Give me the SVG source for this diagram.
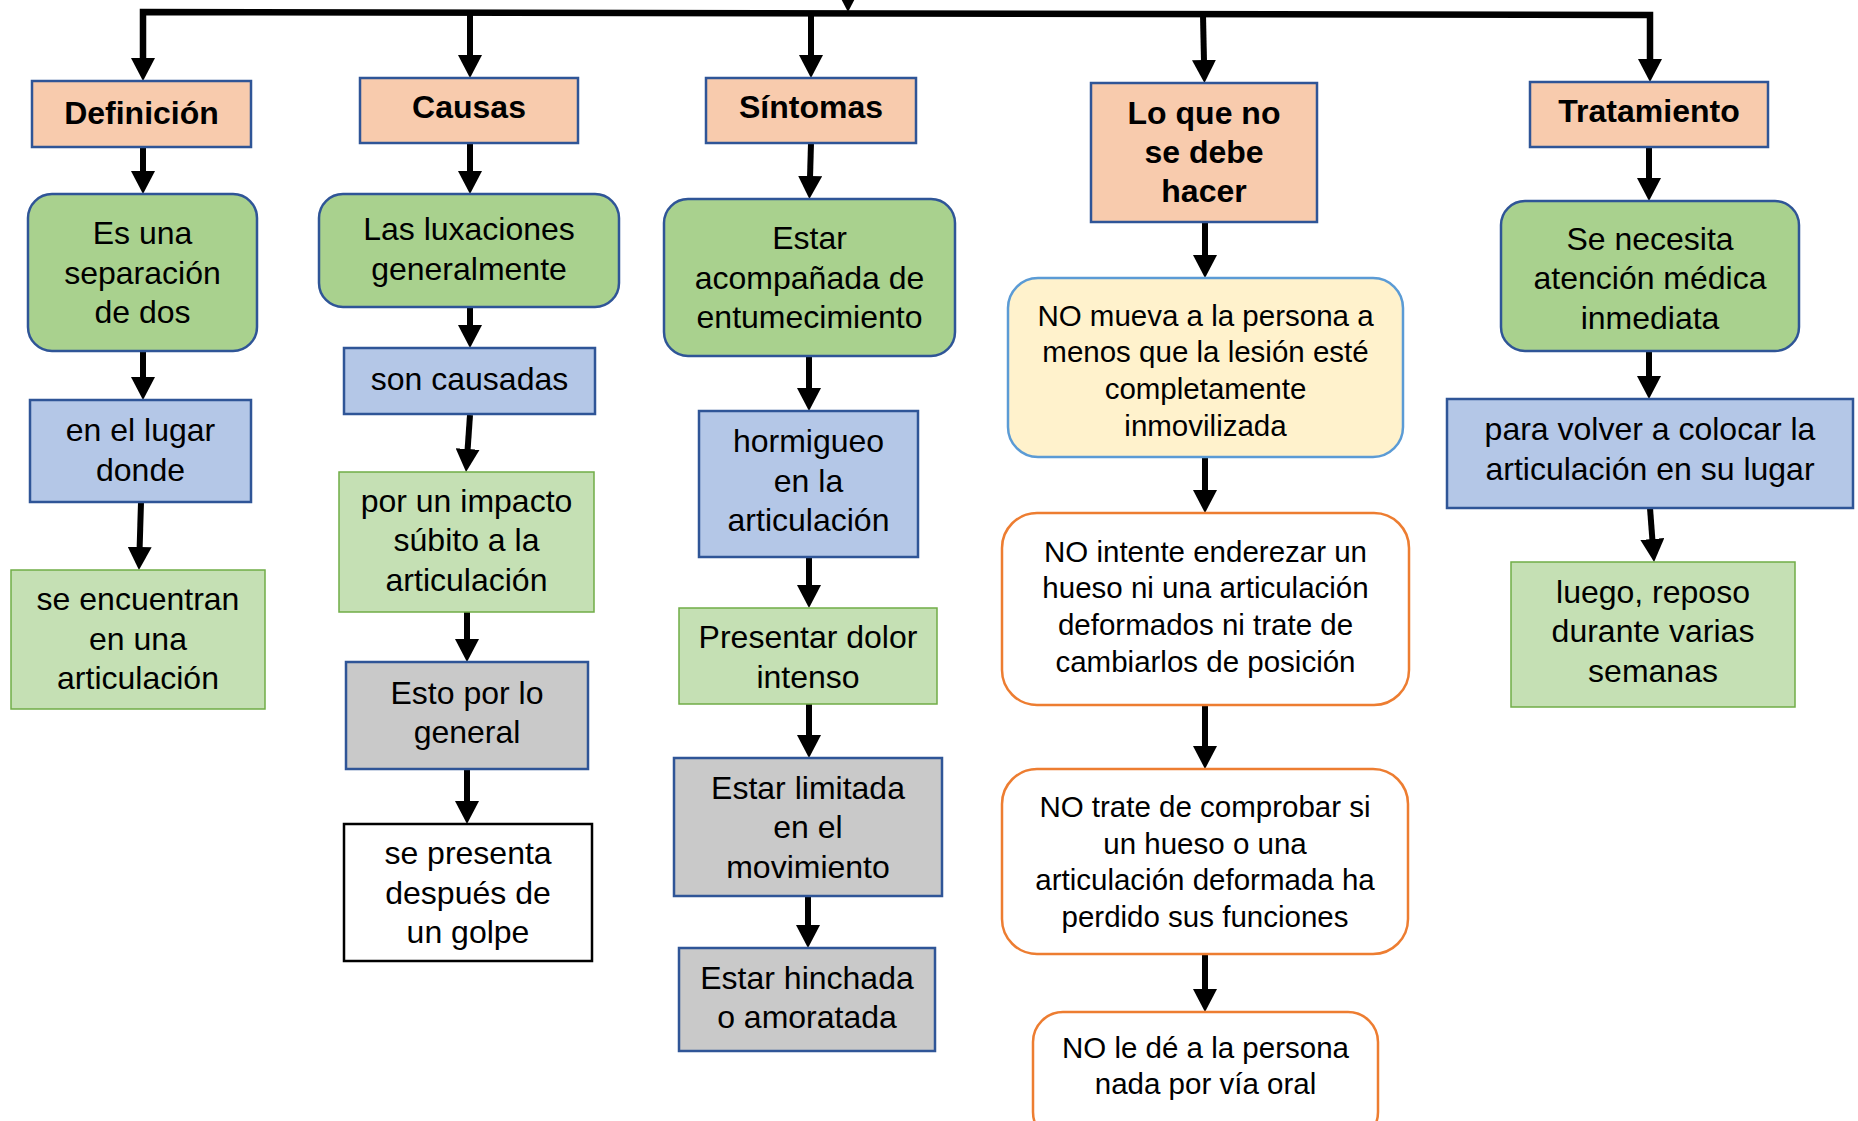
<svg xmlns="http://www.w3.org/2000/svg" width="1858" height="1121" viewBox="0 0 1858 1121">
<style>
text{font-family:"Liberation Sans",Arial,sans-serif;font-size:32px;fill:#000;text-anchor:middle}
.h text{font-weight:bold}
.no text{font-size:29.5px}
.hd{fill:#F8CBAD;stroke:#2F5597;stroke-width:2.5}
.gr{fill:#A9D18E;stroke:#2F5597;stroke-width:2.5}
.bl{fill:#B4C7E7;stroke:#2F5597;stroke-width:2.5}
.lg{fill:#C5E0B4;stroke:#70AD47;stroke-width:1.5}
.gy{fill:#C9C9C9;stroke:#2F5597;stroke-width:2.5}
.wh{fill:#FFFFFF;stroke:#000;stroke-width:2.5}
.ye{fill:#FFF2CC;stroke:#5B9BD5;stroke-width:2.5}
.or{fill:#FFFFFF;stroke:#ED7D31;stroke-width:2.5}
.c path{fill:none;stroke:#000;stroke-width:6;marker-end:url(#ah)}
</style>
<defs>
<marker id="ah" markerUnits="userSpaceOnUse" markerWidth="24" markerHeight="24" refX="2" refY="12" orient="auto-start-reverse"><path d="M0,0 L23,12 L0,24 z" fill="#000"/></marker>
</defs>
<g class="c" id="connectors">
<path d="M143,60 L143,12 L1650,15 L1650,61" style="marker-start:url(#ah);stroke-width:6.5" stroke-linejoin="miter"/>
<path d="M848,-30 L848,-9"/>
<path d="M470,13 L470,57"/>
<path d="M811,14 L811,57"/>
<path d="M1203,15 L1204,62"/>
<path d="M143,147 L143,173"/>
<path d="M143,351 L143,379"/>
<path d="M141,502 L139.6,549"/>
<path d="M470,143 L470,173"/>
<path d="M470,307 L470,327"/>
<path d="M470,415 L467.5,451"/>
<path d="M467,612 L467,641"/>
<path d="M467,769 L467,803"/>
<path d="M811,143 L810,178"/>
<path d="M809,356 L809,390"/>
<path d="M809,557 L809,587"/>
<path d="M809,704 L809,737"/>
<path d="M808,896 L808,927"/>
<path d="M1205,222 L1205,257"/>
<path d="M1205,457 L1205,492"/>
<path d="M1205,705 L1205,748"/>
<path d="M1205,954 L1205,991"/>
<path d="M1649,147 L1649,180"/>
<path d="M1649,351 L1649,378"/>
<path d="M1650,508 L1652.5,541"/>
</g>
<g class="h">
<g id="definicion"><rect class="hd" x="32" y="81" width="219" height="66"/><text x="141.5" y="124">Definición</text></g>
<g id="causas"><rect class="hd" x="360" y="78" width="218" height="65"/><text x="469" y="118">Causas</text></g>
<g id="sintomas"><rect class="hd" x="706" y="78" width="210" height="65"/><text x="811" y="118">Síntomas</text></g>
<g id="loqueno"><rect class="hd" x="1091" y="83" width="226" height="139"/><text x="1204" y="123.5">Lo que no</text><text x="1204" y="162.5">se debe</text><text x="1204" y="201.5">hacer</text></g>
<g id="tratamiento"><rect class="hd" x="1530" y="82" width="238" height="65"/><text x="1649" y="122">Tratamiento</text></g>
</g>
<g id="esuna"><rect class="gr" x="28" y="194" width="229" height="157" rx="24"/><text x="142.5" y="244">Es una</text><text x="142.5" y="283.5">separación</text><text x="142.5" y="323">de dos</text></g>
<g id="enellugar"><rect class="bl" x="30" y="400" width="221" height="102"/><text x="140.5" y="441">en el lugar</text><text x="140.5" y="481">donde</text></g>
<g id="seencuentran"><rect class="lg" x="11" y="570" width="254" height="139"/><text x="138" y="610">se encuentran</text><text x="138" y="649.5">en una</text><text x="138" y="689">articulación</text></g>
<g id="lasluxaciones"><rect class="gr" x="319" y="194" width="300" height="113" rx="24"/><text x="469" y="240">Las luxaciones</text><text x="469" y="279.5">generalmente</text></g>
<g id="soncausadas"><rect class="bl" x="344" y="348" width="251" height="66"/><text x="469.5" y="389.5">son causadas</text></g>
<g id="porunimpacto"><rect class="lg" x="339" y="472" width="255" height="140"/><text x="466.5" y="511.5">por un impacto</text><text x="466.5" y="551">súbito a la</text><text x="466.5" y="590.5">articulación</text></g>
<g id="estoporlo"><rect class="gy" x="346" y="662" width="242" height="107"/><text x="467" y="703.5">Esto por lo</text><text x="467" y="743">general</text></g>
<g id="sepresenta"><rect class="wh" x="344" y="824" width="248" height="137"/><text x="468" y="864">se presenta</text><text x="468" y="903.5">después de</text><text x="468" y="943">un golpe</text></g>
<g id="acompanada"><rect class="gr" x="664" y="199" width="291" height="157" rx="24"/><text x="809.5" y="249">Estar</text><text x="809.5" y="288.5">acompañada de</text><text x="809.5" y="328">entumecimiento</text></g>
<g id="hormigueo"><rect class="bl" x="699" y="411" width="219" height="146"/><text x="808.5" y="452">hormigueo</text><text x="808.5" y="491.5">en la</text><text x="808.5" y="531">articulación</text></g>
<g id="dolor"><rect class="lg" x="679" y="608" width="258" height="96"/><text x="808" y="647.5">Presentar dolor</text><text x="808" y="687.5">intenso</text></g>
<g id="limitada"><rect class="gy" x="674" y="758" width="268" height="138"/><text x="808" y="798.5">Estar limitada</text><text x="808" y="838">en el</text><text x="808" y="877.5">movimiento</text></g>
<g id="hinchada"><rect class="gy" x="679" y="948" width="256" height="103"/><text x="807" y="988.5">Estar hinchada</text><text x="807" y="1028">o amoratada</text></g>
<g class="no">
<g id="nomueva"><rect class="ye" x="1008" y="278" width="395" height="179" rx="30"/><text x="1205.5" y="325.5">NO mueva a la persona a</text><text x="1205.5" y="362">menos que la lesión esté</text><text x="1205.5" y="398.5">completamente</text><text x="1205.5" y="435.5">inmovilizada</text></g>
<g id="nointente"><rect class="or" x="1002" y="513" width="407" height="192" rx="35"/><text x="1205.5" y="561.5">NO intente enderezar un</text><text x="1205.5" y="598">hueso ni una articulación</text><text x="1205.5" y="634.5">deformados ni trate de</text><text x="1205.5" y="671.5">cambiarlos de posición</text></g>
<g id="notrate"><rect class="or" x="1002" y="769" width="406" height="185" rx="35"/><text x="1205" y="817">NO trate de comprobar si</text><text x="1205" y="853.5">un hueso o una</text><text x="1205" y="890">articulación deformada ha</text><text x="1205" y="927">perdido sus funciones</text></g>
<g id="nole"><rect class="or" x="1033" y="1012" width="345" height="130" rx="30"/><text x="1205.5" y="1058">NO le dé a la persona</text><text x="1205.5" y="1094">nada por vía oral</text></g>
</g>
<g id="senecesita"><rect class="gr" x="1501" y="201" width="298" height="150" rx="24"/><text x="1650" y="249.5">Se necesita</text><text x="1650" y="289">atención médica</text><text x="1650" y="328.5">inmediata</text></g>
<g id="paravolver"><rect class="bl" x="1447" y="399" width="406" height="109"/><text x="1650" y="440">para volver a colocar la</text><text x="1650" y="479.5">articulación en su lugar</text></g>
<g id="luego"><rect class="lg" x="1511" y="562" width="284" height="145"/><text x="1653" y="602.5">luego, reposo</text><text x="1653" y="642">durante varias</text><text x="1653" y="681.5">semanas</text></g>
</svg>
